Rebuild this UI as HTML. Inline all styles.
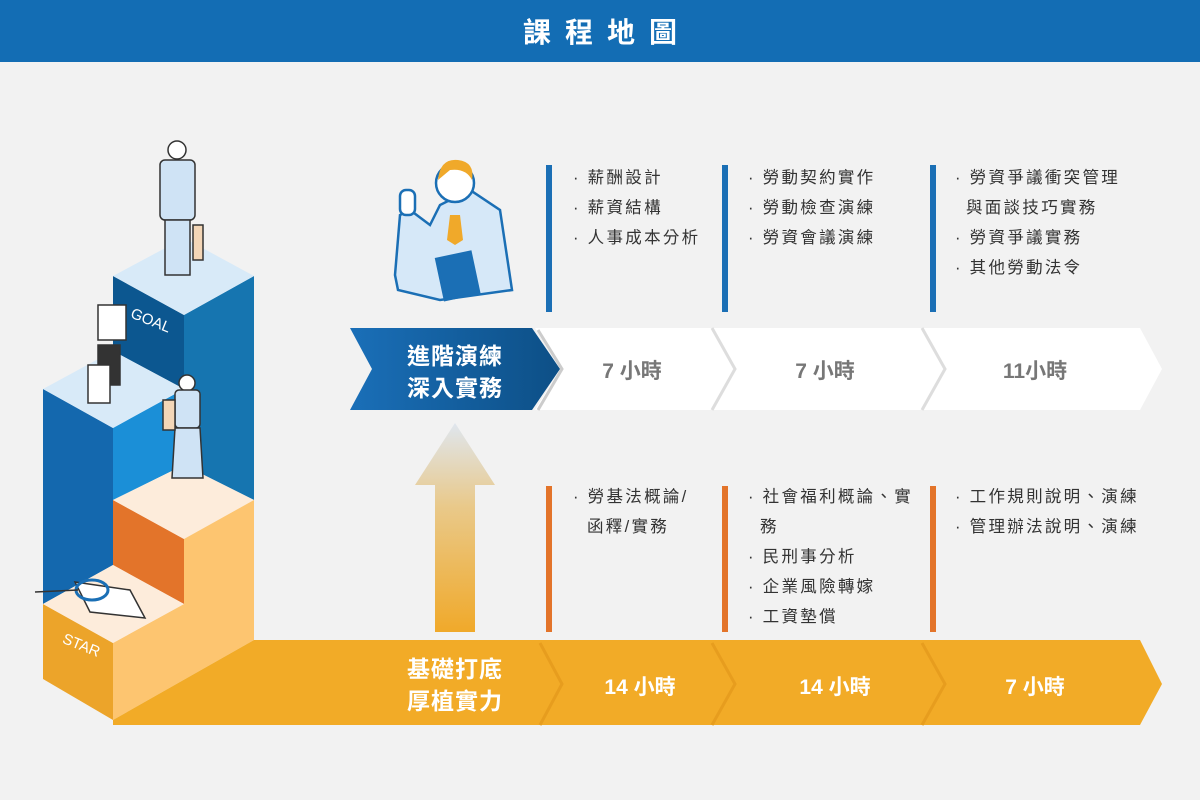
<!DOCTYPE html>
<html><head><meta charset="utf-8"><style>
html,body{margin:0;padding:0;}
body{width:1200px;height:800px;background:#f2f2f2;overflow:hidden;font-family:"Liberation Sans","Noto Sans CJK TC",sans-serif;}
</style></head><body>
<svg width="1200" height="800" viewBox="0 0 1200 800" xmlns="http://www.w3.org/2000/svg" style="display:block;font-family:'Liberation Sans','Noto Sans CJK TC',sans-serif">
<defs>
<linearGradient id="bl" x1="0" x2="1"><stop offset="0" stop-color="#1a6fb8"/><stop offset="1" stop-color="#0d4f86"/></linearGradient>
<linearGradient id="up" x1="0" y1="1" x2="0" y2="0"><stop offset="0" stop-color="#f0a92a"/><stop offset="0.6" stop-color="#e9c98a"/><stop offset="1" stop-color="#dfe6ee"/></linearGradient>
</defs>
<rect x="0" y="0" width="1200" height="62" fill="#136db4"/>
<text x="607" y="42" text-anchor="middle" fill="#fff" font-size="28" font-weight="bold" letter-spacing="14">課程地圖</text>

<polygon points="113,276 184,315 184,389 113,351" fill="#0c5790"/>
<polygon points="184,315 254,276 254,500 184,465" fill="#1675b0"/>
<polygon points="113,276 184,238 254,276 184,315" fill="#d8eaf8"/>
<polygon points="43,389 113,428 113,565 43,604" fill="#1468ae"/>
<polygon points="113,428 184,389 184,465 113,500" fill="#1b8fd7"/>
<polygon points="43,389 113,351 184,389 113,428" fill="#d8eaf8"/>
<polygon points="113,500 184,539 184,604 113,565" fill="#e3742a"/>
<polygon points="113,500 184,465 254,500 184,539" fill="#fdecdb"/>
<polygon points="113,643 184,604 184,539 254,500 254,640 113,720" fill="#fdc570"/>
<polygon points="43,604 113,643 113,720 43,679" fill="#eca42a"/>
<polygon points="43,604 113,565 184,604 113,643" fill="#fdecdb"/>
<polygon points="113,720 254,640 1140,640 1162,684 1140,725 113,725" fill="#f2ab27"/>
<text x="130" y="325" fill="#fff" font-size="15" transform="rotate(22 150 320)">GOAL</text>
<text x="60" y="650" fill="#fff" font-size="15" transform="rotate(22 80 650)">STAR</text>

<g stroke="#333" stroke-width="1.5">
<circle cx="177" cy="150" r="9" fill="#fff"/>
<rect x="160" y="160" width="35" height="60" rx="5" fill="#cfe3f5"/>
<rect x="165" y="220" width="25" height="55" fill="#cfe3f5"/>
<rect x="193" y="225" width="10" height="35" fill="#f3d6b7"/>
<circle cx="187" cy="383" r="8" fill="#fff"/>
<rect x="175" y="390" width="25" height="38" rx="4" fill="#cfe3f5"/>
<polygon points="175,428 200,428 203,478 172,478" fill="#cfe3f5"/>
<rect x="163" y="400" width="12" height="30" fill="#f3d6b7"/>
<rect x="98" y="305" width="28" height="35" fill="#fff"/>
<rect x="98" y="345" width="22" height="40" fill="#333"/>
<rect x="88" y="365" width="22" height="38" fill="#fff"/>
<polygon points="75,582 130,590 145,618 90,612" fill="#fff"/>
<ellipse cx="92" cy="590" rx="16" ry="10" fill="none" stroke="#1a6fb5" stroke-width="3"/>
<line x1="35" y1="592" x2="78" y2="590"/>
</g>
<g stroke="#1b6fb5" stroke-width="2.5">
<path d="M395,275 L400,215 L410,210 L430,225 L440,205 L470,190 L500,210 L512,290 L440,300 L398,290 Z" fill="#d6e8f8"/>
<circle cx="455" cy="183" r="19" fill="#fff"/>
<path d="M438,180 Q440,158 458,160 Q475,162 472,180 Q466,168 450,170 Z" fill="#f0a92a" stroke="none"/>
<rect x="400" y="190" width="15" height="25" rx="6" fill="#fff"/>
<rect x="440" y="255" width="35" height="42" fill="#1b6fb5" transform="rotate(-12 457 275)"/>
</g>
<polygon points="450,215 460,215 463,240 455,245 447,240" fill="#f0a92a"/>

<polygon points="435,632 475,632 475,485 495,485 455,423 415,485 435,485" fill="url(#up)"/>

<polygon points="535,328 1140,328 1162,369 1140,410 535,410 560,369" fill="#fff"/>
<polyline points="712,328 735,369 712,410" fill="none" stroke="#ddd" stroke-width="3"/>
<polyline points="922,328 945,369 922,410" fill="none" stroke="#ddd" stroke-width="3"/>
<polyline points="538,330 562,369 538,410" fill="none" stroke="#ccc" stroke-width="3"/>
<polygon points="350,328 532,328 560,369 532,410 350,410 372,369" fill="url(#bl)"/>
<text x="455" y="364" text-anchor="middle" fill="#fff" font-size="23" font-weight="bold" letter-spacing="1">進階演練</text>
<text x="455" y="396" text-anchor="middle" fill="#fff" font-size="23" font-weight="bold" letter-spacing="1">深入實務</text>
<g fill="#777" font-size="21" font-weight="bold" text-anchor="middle">
<text x="632" y="378">7 小時</text><text x="825" y="378">7 小時</text><text x="1035" y="378">11小時</text></g>

<g fill="none" stroke="#e79d1e" stroke-width="3">
<polyline points="540,643 562,684 540,725"/><polyline points="712,643 735,684 712,725"/><polyline points="922,643 945,684 922,725"/></g>
<text x="455" y="677" text-anchor="middle" fill="#fff" font-size="23" font-weight="bold" letter-spacing="1">基礎打底</text>
<text x="455" y="709" text-anchor="middle" fill="#fff" font-size="23" font-weight="bold" letter-spacing="1">厚植實力</text>
<g fill="#fff" font-size="21" font-weight="bold" text-anchor="middle">
<text x="640" y="694">14 小時</text><text x="835" y="694">14 小時</text><text x="1035" y="694">7 小時</text></g>

<g fill="#1b6fb5"><rect x="546" y="165" width="6" height="147"/><rect x="722" y="165" width="6" height="147"/><rect x="930" y="165" width="6" height="147"/></g>
<g fill="#e3742a"><rect x="546" y="486" width="6" height="146"/><rect x="722" y="486" width="6" height="146"/><rect x="930" y="486" width="6" height="146"/></g>

<g fill="#333" font-size="16.5" letter-spacing="2.3">
<text x="573" y="183">· 薪酬設計</text><text x="573" y="213">· 薪資結構</text><text x="573" y="243">· 人事成本分析</text>
<text x="748" y="183">· 勞動契約實作</text><text x="748" y="213">· 勞動檢查演練</text><text x="748" y="243">· 勞資會議演練</text>
<text x="955" y="183">· 勞資爭議衝突管理</text><text x="966" y="213">與面談技巧實務</text><text x="955" y="243">· 勞資爭議實務</text><text x="955" y="273">· 其他勞動法令</text>
<text x="573" y="502">· 勞基法概論/</text><text x="587" y="532">函釋/實務</text>
<text x="748" y="502">· 社會福利概論、實</text><text x="760" y="532">務</text><text x="748" y="562">· 民刑事分析</text><text x="748" y="592">· 企業風險轉嫁</text><text x="748" y="622">· 工資墊償</text>
<text x="955" y="502">· 工作規則說明、演練</text><text x="955" y="532">· 管理辦法說明、演練</text>
</g>
</svg>
</body></html>
